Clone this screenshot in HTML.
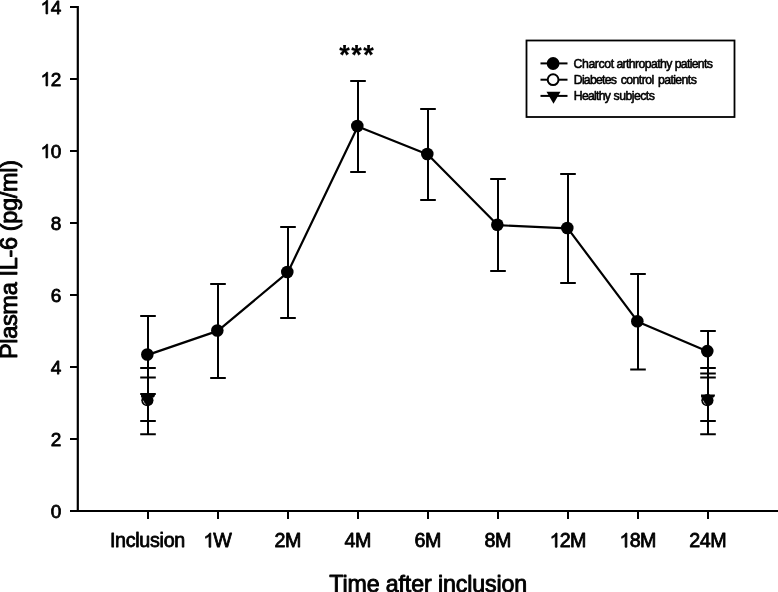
<!DOCTYPE html>
<html><head><meta charset="utf-8"><title>Plasma IL-6</title>
<style>
html,body{margin:0;padding:0;background:#fff;}
body{width:778px;height:592px;overflow:hidden;}
svg{display:block;}
svg{will-change:transform;stroke-width:0.4px;}
text{font-family:"Liberation Sans",sans-serif;fill:#000;stroke:#000;stroke-linejoin:round;}
</style></head><body>
<svg width="778" height="592" viewBox="0 0 778 592">
<rect width="778" height="592" fill="#fff"/>

<g stroke="#000" stroke-width="2" fill="none" stroke-linecap="butt">
<line x1="77.8" y1="6" x2="77.8" y2="512" stroke-width="2.2"/>
<line x1="76.7" y1="511" x2="778" y2="511"/>
<line x1="70" y1="511.0" x2="78" y2="511.0"/>
<line x1="70" y1="439.0" x2="78" y2="439.0"/>
<line x1="70" y1="367.0" x2="78" y2="367.0"/>
<line x1="70" y1="295.0" x2="78" y2="295.0"/>
<line x1="70" y1="223.0" x2="78" y2="223.0"/>
<line x1="70" y1="151.0" x2="78" y2="151.0"/>
<line x1="70" y1="79.0" x2="78" y2="79.0"/>
<line x1="70" y1="7.0" x2="78" y2="7.0"/>
<line x1="148" y1="511" x2="148" y2="518.9"/>
<line x1="218" y1="511" x2="218" y2="518.9"/>
<line x1="288" y1="511" x2="288" y2="518.9"/>
<line x1="358" y1="511" x2="358" y2="518.9"/>
<line x1="428" y1="511" x2="428" y2="518.9"/>
<line x1="498" y1="511" x2="498" y2="518.9"/>
<line x1="568" y1="511" x2="568" y2="518.9"/>
<line x1="638" y1="511" x2="638" y2="518.9"/>
<line x1="708" y1="511" x2="708" y2="518.9"/>
</g>
<g font-size="19px" style="stroke-width:0.8px">
<text x="50.64" y="517.9" style="letter-spacing:-0.5px">0</text>
<text x="50.64" y="445.9" style="letter-spacing:-0.5px">2</text>
<text x="50.64" y="373.9" style="letter-spacing:-0.5px">4</text>
<text x="50.64" y="301.9" style="letter-spacing:-0.5px">6</text>
<text x="50.64" y="229.9" style="letter-spacing:-0.5px">8</text>
<path transform="translate(40.57,157.9) scale(0.00928,-0.00928)" d="M763 0H583V1147Q518 1085 412.5 1023T223 930V1104Q374 1175 487 1276T647 1472H763Z" fill="#000" stroke="#000" stroke-width="0.8" stroke-linejoin="round" vector-effect="non-scaling-stroke"/><text x="50.64" y="157.9" style="letter-spacing:-0.5px">0</text>
<path transform="translate(40.57,85.9) scale(0.00928,-0.00928)" d="M763 0H583V1147Q518 1085 412.5 1023T223 930V1104Q374 1175 487 1276T647 1472H763Z" fill="#000" stroke="#000" stroke-width="0.8" stroke-linejoin="round" vector-effect="non-scaling-stroke"/><text x="50.64" y="85.9" style="letter-spacing:-0.5px">2</text>
<path transform="translate(40.57,13.9) scale(0.00928,-0.00928)" d="M763 0H583V1147Q518 1085 412.5 1023T223 930V1104Q374 1175 487 1276T647 1472H763Z" fill="#000" stroke="#000" stroke-width="0.8" stroke-linejoin="round" vector-effect="non-scaling-stroke"/><text x="50.64" y="13.9" style="letter-spacing:-0.5px">4</text>
</g>
<g font-size="19.7px" style="stroke-width:0.8px">
<text x="147.45" y="547.2" text-anchor="middle" style="letter-spacing:-0.3px">Inclusion</text>
<path transform="translate(203.43,547.2) scale(0.00962,-0.00962)" d="M763 0H583V1147Q518 1085 412.5 1023T223 930V1104Q374 1175 487 1276T647 1472H763Z" fill="#000" stroke="#000" stroke-width="0.8" stroke-linejoin="round" vector-effect="non-scaling-stroke"/><text x="213.18" y="547.2" style="letter-spacing:-1.2px">W</text>
<text x="274.52" y="547.2" style="letter-spacing:-0.4px">2M</text>
<text x="344.52" y="547.2" style="letter-spacing:-0.4px">4M</text>
<text x="414.52" y="547.2" style="letter-spacing:-0.4px">6M</text>
<text x="484.52" y="547.2" style="letter-spacing:-0.4px">8M</text>
<path transform="translate(549.69,547.2) scale(0.00962,-0.00962)" d="M763 0H583V1147Q518 1085 412.5 1023T223 930V1104Q374 1175 487 1276T647 1472H763Z" fill="#000" stroke="#000" stroke-width="0.8" stroke-linejoin="round" vector-effect="non-scaling-stroke"/><text x="559.79" y="547.2" style="letter-spacing:-0.85px">2M</text>
<path transform="translate(619.54,547.2) scale(0.00962,-0.00962)" d="M763 0H583V1147Q518 1085 412.5 1023T223 930V1104Q374 1175 487 1276T647 1472H763Z" fill="#000" stroke="#000" stroke-width="0.8" stroke-linejoin="round" vector-effect="non-scaling-stroke"/><text x="629.79" y="547.2" style="letter-spacing:-0.7px">8M</text>
<text x="689.24" y="547.2" style="letter-spacing:-0.4px">24M</text>
</g>
<text x="329.2" y="591.7" font-size="23.2px" textLength="198" lengthAdjust="spacing" style="stroke-width:0.9px">Time after inclusion</text>
<text transform="translate(17.1,359.0) rotate(-90)" font-size="23.6px" textLength="199" lengthAdjust="spacing" style="stroke-width:0.9px">Plasma IL-6 (pg/ml)</text>
<text x="357.2" y="64.1" font-size="27px" font-weight="bold" text-anchor="middle" style="stroke-width:0.2px;letter-spacing:1.45px">***</text>
<g stroke="#000" stroke-width="2" fill="none">
<path d="M148 316V394M140.2 316H155.8M140.2 394H155.8"/>
<path d="M218 284V378M210.2 284H225.8M210.2 378H225.8"/>
<path d="M288 227V318M280.2 227H295.8M280.2 318H295.8"/>
<path d="M358 81V172M350.2 81H365.8M350.2 172H365.8"/>
<path d="M428 109V200M420.2 109H435.8M420.2 200H435.8"/>
<path d="M498 179V271M490.2 179H505.8M490.2 271H505.8"/>
<path d="M568 174V283M560.2 174H575.8M560.2 283H575.8"/>
<path d="M638 274V369.5M630.2 274H645.8M630.2 369.5H645.8"/>
<path d="M708 331V373.4M700.2 331H715.8M700.2 373.4H715.8"/>
<path d="M148 368V434.3M140.2 368H155.8M140.2 434.3H155.8"/>
<path d="M148 377.4V421M140.2 377.4H155.8M140.2 421H155.8"/>
<path d="M708 368V434.3M700.2 368H715.8M700.2 434.3H715.8"/>
<path d="M708 377.4V421M700.2 377.4H715.8M700.2 421H715.8"/>
<polyline stroke-width="2.2" stroke-linejoin="round" points="147.8,354.9 217.8,330.9 287.8,272.4 357.8,126.4 427.8,154.4 497.8,225.20000000000002 567.8,228.4 637.8,321.7 707.8,351.5"/>
</g>
<circle cx="147.3" cy="354.5" r="6.3" fill="#000"/>
<circle cx="217.3" cy="330.5" r="6.3" fill="#000"/>
<circle cx="287.3" cy="272" r="6.3" fill="#000"/>
<circle cx="357.3" cy="126" r="6.3" fill="#000"/>
<circle cx="427.3" cy="154" r="6.3" fill="#000"/>
<circle cx="497.3" cy="224.8" r="6.3" fill="#000"/>
<circle cx="567.3" cy="228" r="6.3" fill="#000"/>
<circle cx="637.3" cy="321.3" r="6.3" fill="#000"/>
<circle cx="707.3" cy="351.1" r="6.3" fill="#000"/>
<circle cx="147.4" cy="400.2" r="6.1" fill="#000"/>
<path d="M141 394.4H154.9V396L153.7 397.6H141.1Z" fill="#000"/>
<path d="M143.2 400.6Q143.7 402.8 145.5 404.4" stroke="#e8e8e8" stroke-width="0.8" fill="none"/>
<circle cx="707.4" cy="400.2" r="6.1" fill="#000"/>
<path d="M701 394.4H714.9V396L713.7 397.6H701.1Z" fill="#000"/>
<path d="M703.2 400.6Q703.7 402.8 705.5 404.4" stroke="#e8e8e8" stroke-width="0.8" fill="none"/>
<rect x="526.5" y="40.5" width="208" height="76.5" fill="#fff" stroke="#000" stroke-width="1.8"/>
<g stroke="#000" stroke-width="2">
<line x1="540.5" y1="63.4" x2="567.5" y2="63.4"/>
<line x1="540.5" y1="79.7" x2="567.5" y2="79.7"/>
<line x1="540.5" y1="95.9" x2="567.5" y2="95.9"/>
</g>
<circle cx="553.1" cy="63.5" r="6.4" fill="#000"/>
<circle cx="553.1" cy="79.7" r="5.4" fill="#fff" stroke="#000" stroke-width="2"/>
<path d="M546.5 91.65866666666668H560.5L553.5 103.78266666666667Z" fill="#000"/>
<g font-size="12.3px" style="stroke-width:0.55px">
<text x="573.5" y="68" textLength="40.6" lengthAdjust="spacing">Charcot</text>
<text x="616.4" y="68" textLength="55.9" lengthAdjust="spacing">arthropathy</text>
<text x="674.7" y="68" textLength="38.1" lengthAdjust="spacing">patients</text>
<text x="573.8" y="84.2" textLength="43.1" lengthAdjust="spacing">Diabetes</text>
<text x="620.7" y="84.2" textLength="33.6" lengthAdjust="spacing">control</text>
<text x="657.9" y="84.2" textLength="38.9" lengthAdjust="spacing">patients</text>
<text x="573.8" y="100.2" textLength="37.2" lengthAdjust="spacing">Healthy</text>
<text x="613.6" y="100.2" textLength="41.3" lengthAdjust="spacing">subjects</text>
</g>
</svg></body></html>
